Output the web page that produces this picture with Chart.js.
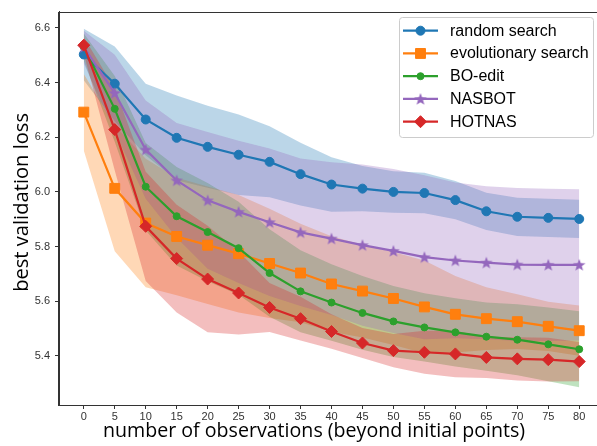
<!DOCTYPE html>
<html><head><meta charset="utf-8">
<script src="https://cdn.jsdelivr.net/npm/chart.js@4.4.1/dist/chart.umd.min.js"></script>
<style>
html,body{margin:0;padding:0;overflow:hidden;background:#fff;width:597px;height:446px}
#wrap{position:absolute;left:0;top:0;width:620px;height:446px}
</style>
</head><body>
<div id="wrap"><canvas id="c" width="620" height="446"></canvas></div>
<script>
// ---- data ----
const observations = [0,5,10,15,20,25,30,35,40,45,50,55,60,65,70,75,80];
const xTicks = [0,5,10,15,20,25,30,35,40,45,50,55,60,65,70,75,80];
const yTicks = [5.4,5.6,5.8,6.0,6.2,6.4,6.6];
const seriesNames = ['random search','evolutionary search','BO-edit','NASBOT','HOTNAS'];

const randomMean = [6.503,6.396,6.265,6.198,6.165,6.136,6.110,6.065,6.027,6.012,6.000,5.996,5.970,5.929,5.909,5.905,5.901];
const randomStd  = [0.094,0.136,0.131,0.155,0.150,0.147,0.130,0.115,0.100,0.083,0.076,0.074,0.070,0.068,0.070,0.070,0.070];

const evoMean = [6.292,6.013,5.886,5.837,5.805,5.774,5.738,5.703,5.663,5.637,5.610,5.579,5.552,5.536,5.525,5.508,5.492];
const evoStd  = [0.140,0.230,0.235,0.215,0.215,0.215,0.200,0.180,0.175,0.170,0.170,0.170,0.140,0.115,0.100,0.090,0.092];

const boMean = [6.530,6.304,6.019,5.911,5.853,5.794,5.703,5.636,5.595,5.557,5.526,5.504,5.486,5.470,5.459,5.442,5.424];
const boStd  = [0.050,0.120,0.160,0.180,0.180,0.170,0.160,0.150,0.140,0.135,0.130,0.125,0.125,0.125,0.130,0.135,0.139];

const nasMean = [6.530,6.362,6.155,6.042,5.969,5.927,5.889,5.852,5.829,5.805,5.784,5.761,5.749,5.741,5.734,5.733,5.733];
const nasStd  = [0.060,0.140,0.180,0.210,0.250,0.260,0.270,0.270,0.280,0.295,0.300,0.300,0.285,0.280,0.280,0.279,0.277];

const hotMean = [6.537,6.228,5.874,5.756,5.681,5.630,5.577,5.536,5.489,5.447,5.419,5.413,5.407,5.394,5.389,5.386,5.379];
const hotStd  = [0.030,0.150,0.200,0.197,0.195,0.152,0.090,0.080,0.063,0.055,0.061,0.079,0.085,0.075,0.079,0.080,0.072];

// ---- styling ----
const colors = ['#1f77b4','#ff7f0e','#2ca02c','#9467bd','#d62728'];
const bandColors = ['rgba(31,119,180,0.3)','rgba(255,127,14,0.3)','rgba(44,160,44,0.3)','rgba(148,103,189,0.3)','rgba(214,39,40,0.3)'];

function makeStar(color){
  const s = 14, cv = document.createElement('canvas');
  cv.width = s; cv.height = s;
  const c = cv.getContext('2d');
  const R = 6.6, r = 2.7, cx = s/2, cy = s/2 + 0.5;
  c.beginPath();
  for (let i = 0; i < 10; i++) {
    const ang = -Math.PI/2 + i*Math.PI/5;
    const rad = i % 2 === 0 ? R : r;
    const px = cx + rad*Math.cos(ang), py = cy + rad*Math.sin(ang);
    if (i === 0) c.moveTo(px, py); else c.lineTo(px, py);
  }
  c.closePath();
  c.fillStyle = color; c.fill();
  return cv;
}
const starImg = makeStar(colors[3]);

const pointStyles = ['circle','rect','circle',starImg,'rectRot'];
const pointRadii = [4.5,7,3.5,6,6];

const means = [randomMean, evoMean, boMean, nasMean, hotMean];
const stds  = [randomStd, evoStd, boStd, nasStd, hotStd];

const toXY = arr => arr.map((v,i)=>({x: observations[i], y: v}));

const datasets = [];
// bands first
means.forEach((m, s) => {
  const up = m.map((v,i)=> v + stds[s][i]);
  const lo = m.map((v,i)=> v - stds[s][i]);
  datasets.push({label:'_up'+s, data: toXY(up), pointRadius:0, borderWidth:0, borderColor:'rgba(0,0,0,0)', fill:false, order: 20 - s, isBand:true});
  datasets.push({label:'_lo'+s, data: toXY(lo), pointRadius:0, borderWidth:0, borderColor:'rgba(0,0,0,0)', fill:'-1', backgroundColor: bandColors[s], order: 20 - s, isBand:true});
});
// lines
means.forEach((m, s) => {
  datasets.push({
    label: seriesNames[s], data: toXY(m),
    borderColor: colors[s], backgroundColor: colors[s],
    borderWidth: 2.2, pointStyle: pointStyles[s], pointRadius: pointRadii[s],
    pointBorderWidth: 1, pointBorderColor: colors[s], pointBackgroundColor: colors[s],
    fill: false, tension: 0, order: 10 - s, seriesIndex: s
  });
});

const framePlugin = {
  id: 'frame',
  afterDatasetsDraw(chart){
    const {ctx, chartArea:a} = chart;
    ctx.save();
    ctx.strokeStyle = '#333'; ctx.lineWidth = 1;
    ctx.strokeRect(Math.round(a.left)-0.5, Math.round(a.top)+0.5, Math.round(a.right-a.left)+1, Math.round(a.bottom-a.top));
    ctx.restore();
  }
};

const legendPlugin = {
  id: 'mplLegend',
  afterDraw(chart){
    const ctx = chart.ctx;
    ctx.save();
    const bx = 399.5, by = 17.5, bw = 194, bh = 120;
    ctx.beginPath();
    ctx.roundRect(bx, by, bw, bh, 3);
    ctx.fillStyle = 'rgba(255,255,255,0.85)'; ctx.fill();
    ctx.strokeStyle = '#cccccc'; ctx.lineWidth = 1; ctx.stroke();
    seriesNames.forEach((name, s) => {
      const y = 30.7 + s*22.75;
      ctx.beginPath();
      ctx.moveTo(403, y); ctx.lineTo(438, y);
      ctx.strokeStyle = colors[s]; ctx.lineWidth = 2.2; ctx.stroke();
      ctx.fillStyle = colors[s]; ctx.strokeStyle = colors[s]; ctx.lineWidth = 1;
      Chart.helpers.drawPoint(ctx, {pointStyle: pointStyles[s], radius: pointRadii[s], borderWidth: 1, rotation: 0}, 420.5, y);
      ctx.fillStyle = '#000';
      ctx.font = '16px "Liberation Sans", Arial, sans-serif';
      ctx.textBaseline = 'middle'; ctx.textAlign = 'left';
      ctx.fillText(name, 450, y + 0.5);
    });
    ctx.restore();
  }
};

const titlePlugin = {
  id: 'axisTitles',
  afterDraw(chart){
    const ctx = chart.ctx;
    ctx.save();
    ctx.fillStyle = '#000';
    const fam = '"Open Sans", "Noto Sans", sans-serif';
    const xt = 'number of observations (beyond initial points)';
    ctx.font = '20px ' + fam;
    let fs = 20 * 422 / ctx.measureText(xt).width;
    ctx.font = fs.toFixed(2) + 'px ' + fam;
    ctx.textAlign = 'center'; ctx.textBaseline = 'alphabetic';
    ctx.fillText(xt, 314, 436.7);
    const yt = 'best validation loss';
    ctx.font = '20px ' + fam;
    let fs2 = 20 * 179 / ctx.measureText(yt).width;
    ctx.font = fs2.toFixed(2) + 'px ' + fam;
    ctx.translate(28, 202.4);
    ctx.rotate(-Math.PI/2);
    ctx.fillText(yt, 0, 0);
    ctx.restore();
  }
};

new Chart(document.getElementById('c'), {
  type: 'line',
  data: { datasets },
  options: {
    responsive: false, animation: false, devicePixelRatio: 1,
    layout: { padding: { left: 0, right: 16, top: 10, bottom: 0 } },
    plugins: { legend: { display: false }, tooltip: { enabled: false }, filler: { drawTime: 'beforeDatasetsDraw' } },
    scales: {
      x: {
        type: 'linear', min: -4, max: 84,
        afterBuildTicks: sc => { sc.ticks = xTicks.map(v => ({value: v})); },
        afterFit: sc => { sc.height = 41; },
        ticks: { callback: v => String(v), color: '#333', font: { family: '"Liberation Sans", Arial, sans-serif', size: 11 }, padding: 1, maxRotation: 0, autoSkip: false },
        grid: { display: true, drawOnChartArea: false, drawTicks: true, tickLength: 4, color: '#333' },
        border: { display: true, color: '#333' }
      },
      y: {
        type: 'linear', min: 5.22, max: 6.66,
        afterBuildTicks: sc => { sc.ticks = yTicks.map(v => ({value: v})); },
        afterFit: sc => { sc.width = 59; },
        ticks: { callback: v => Number(v).toFixed(1), color: '#333', font: { family: '"Liberation Sans", Arial, sans-serif', size: 11 }, padding: 5, autoSkip: false },
        grid: { display: true, drawOnChartArea: false, drawTicks: true, tickLength: 4, color: '#333' },
        border: { display: true, color: '#333' }
      }
    }
  },
  plugins: [framePlugin, legendPlugin, titlePlugin]
});
</script>
</body></html>
